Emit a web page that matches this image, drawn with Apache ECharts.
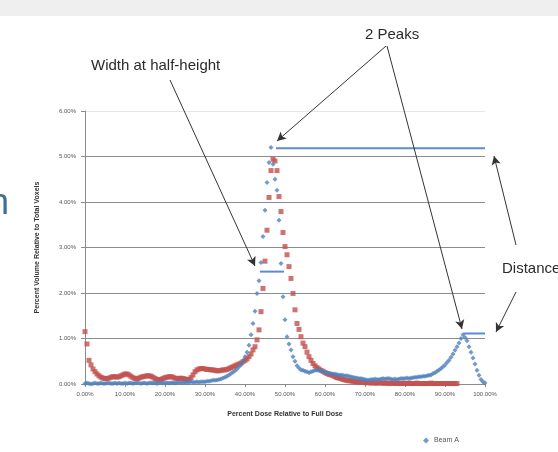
<!DOCTYPE html>
<html>
<head>
<meta charset="utf-8">
<script src="https://cdn.jsdelivr.net/npm/echarts@6/dist/echarts.min.js"></script>
<style>
  html, body { margin: 0; padding: 0; background: #fff; }
  #chart { width: 558px; height: 452px; }
</style>
</head>
<body>
<div id="chart"></div>
<script>
// dose sampled every 0.5 %, values are % of total voxels
const doseStep = 0.5
const yTicks = [0, 1, 2, 3, 4, 5, 6]
const xTicks = [0, 10, 20, 30, 40, 50, 60, 70, 80, 90, 100]

const beamA = [
  0.01, 0.02, 0.01, 0.00, 0.01, 0.02, 0.01, 0.01, 0.02, 0.01,
  0.01, 0.02, 0.02, 0.01, 0.01, 0.02, 0.01, 0.02, 0.01, 0.01,
  0.02, 0.01, 0.02, 0.02, 0.01, 0.02, 0.03, 0.02, 0.01, 0.02,
  0.02, 0.01, 0.02, 0.03, 0.02, 0.02, 0.01, 0.02, 0.03, 0.02,
  0.02, 0.03, 0.02, 0.03, 0.03, 0.02, 0.03, 0.04, 0.03, 0.03,
  0.04, 0.03, 0.04, 0.05, 0.04, 0.04, 0.05, 0.04, 0.05, 0.05,
  0.05, 0.06, 0.06, 0.07, 0.08, 0.08, 0.09, 0.10, 0.11, 0.13,
  0.15, 0.17, 0.20, 0.23, 0.26, 0.29, 0.33, 0.38, 0.43, 0.50,
  0.60, 0.70, 0.85, 1.08, 1.33, 1.60, 1.99, 2.27, 2.67, 3.24,
  3.82, 4.43, 4.87, 5.20, 4.83, 4.50, 4.26, 3.60, 2.65, 1.92,
  1.41, 1.04, 0.88, 0.75, 0.60, 0.50, 0.40, 0.35, 0.31, 0.30,
  0.28, 0.27, 0.25, 0.27, 0.28, 0.30, 0.30, 0.31, 0.29, 0.27,
  0.26, 0.25, 0.24, 0.23, 0.22, 0.22, 0.21, 0.20, 0.20, 0.19,
  0.18, 0.18, 0.17, 0.16, 0.15, 0.14, 0.13, 0.12, 0.12, 0.11,
  0.10, 0.09, 0.09, 0.10, 0.10, 0.11, 0.10, 0.10, 0.11, 0.12,
  0.11, 0.12, 0.12, 0.11, 0.10, 0.11, 0.10, 0.11, 0.12, 0.12,
  0.12, 0.13, 0.12, 0.13, 0.14, 0.15, 0.15, 0.16, 0.16, 0.17,
  0.17, 0.18, 0.19, 0.20, 0.23, 0.25, 0.28, 0.31, 0.34, 0.38,
  0.42, 0.47, 0.52, 0.59, 0.66, 0.74, 0.82, 0.90, 1.00, 1.08,
  1.02, 0.95, 0.82, 0.70, 0.57, 0.44, 0.30, 0.19, 0.10, 0.05,
  0.02
]

const beamB = [
  1.15, 0.88, 0.52, 0.42, 0.33, 0.27, 0.22, 0.18, 0.15, 0.13,
  0.12, 0.12, 0.13, 0.15, 0.16, 0.16, 0.15, 0.16, 0.18, 0.20,
  0.22, 0.22, 0.20, 0.17, 0.14, 0.12, 0.12, 0.13, 0.15, 0.16,
  0.17, 0.18, 0.18, 0.17, 0.15, 0.12, 0.10, 0.09, 0.10, 0.12,
  0.14, 0.15, 0.16, 0.16, 0.15, 0.13, 0.12, 0.12, 0.13, 0.12,
  0.11, 0.10, 0.10, 0.14, 0.20, 0.27, 0.31, 0.33, 0.34, 0.34,
  0.33, 0.32, 0.32, 0.31, 0.31, 0.30, 0.29, 0.29, 0.30, 0.31,
  0.31, 0.32, 0.34, 0.36, 0.38, 0.40, 0.42, 0.44, 0.46, 0.49,
  0.52, 0.55, 0.60, 0.66, 0.75, 0.82, 0.97, 1.19, 1.59, 2.10,
  2.70, 3.38, 4.10, 4.69, 4.94, 4.90, 4.69, 4.12, 3.79, 3.33,
  3.02, 2.84, 2.58, 2.32, 1.99, 1.63, 1.33, 1.20, 1.04, 0.90,
  0.82, 0.70, 0.60, 0.52, 0.45, 0.40, 0.36, 0.33, 0.30, 0.28,
  0.25, 0.23, 0.21, 0.20, 0.18, 0.16, 0.14, 0.13, 0.12, 0.10,
  0.09, 0.08, 0.07, 0.07, 0.06, 0.05, 0.05, 0.04, 0.04, 0.04,
  0.03, 0.03, 0.03, 0.02, 0.03, 0.02, 0.02, 0.03, 0.02, 0.02,
  0.02, 0.02, 0.01, 0.02, 0.02, 0.01, 0.02, 0.01, 0.01, 0.02,
  0.01, 0.01, 0.02, 0.01, 0.01, 0.01, 0.02, 0.01, 0.01, 0.01,
  0.01, 0.01, 0.01, 0.02, 0.01, 0.01, 0.01, 0.01, 0.01, 0.01,
  0.01, 0.01, 0.01, 0.01, 0.01, 0.01, 0.01
]

// hand drawn helper lines on the slide (data coords: dose %, volume %)
const peakLine = [[47.75, 5.18], [100, 5.18]]
const halfLine = [[43.75, 2.47], [49.75, 2.47]]
const secondPeakLine = [[94.6, 1.11], [100, 1.11]]

const toPoints = arr => arr.map((v, i) => [i * doseStep, v])
const pct = v => v.toFixed(2) + '%'

const chart = echarts.init(document.getElementById('chart'))

const helperStyle = { color: '#5b8bd0', width: 2 }
const arrow = (x1, y1, x2, y2) => [{ x: x1, y: y1 }, { x: x2, y: y2 }]

chart.setOption({
  animation: false,
  textStyle: { fontFamily: 'Liberation Sans, Arial, sans-serif' },
  grid: { left: 85, right: 73, top: 111, bottom: 68 },
  legend: {
    data: ['Beam A'],
    left: 418,
    top: 432,
    itemWidth: 6,
    itemHeight: 6,
    textStyle: { fontSize: 7, color: '#555' }
  },
  xAxis: {
    type: 'value',
    min: xTicks[0],
    max: xTicks[xTicks.length - 1],
    interval: 10,
    name: 'Percent Dose Relative to Full Dose',
    nameLocation: 'middle',
    nameGap: 27,
    nameTextStyle: { fontSize: 7, fontWeight: 'bold', color: '#333' },
    axisLine: { lineStyle: { color: '#8c8c8c' } },
    axisTick: { show: true, length: 3, lineStyle: { color: '#8c8c8c' } },
    axisLabel: { formatter: pct, fontSize: 6, color: '#555', margin: 7 },
    splitLine: { show: false }
  },
  yAxis: {
    type: 'value',
    min: yTicks[0],
    max: yTicks[yTicks.length - 1],
    interval: 1,
    name: 'Percent Volume Relative to Total Voxels',
    nameLocation: 'middle',
    nameGap: 44,
    nameTextStyle: { fontSize: 7, fontWeight: 'bold', color: '#333' },
    axisLine: { show: true, lineStyle: { color: '#8c8c8c' } },
    axisTick: { show: true, length: 4, lineStyle: { color: '#8c8c8c' } },
    axisLabel: { formatter: pct, fontSize: 6, color: '#555', margin: 9 },
    splitLine: {
      lineStyle: { color: ['#8c8c8c', '#8c8c8c', '#8c8c8c', '#8c8c8c', '#8c8c8c', '#8c8c8c', '#e6e6e6'] }
    }
  },
  series: [
    {
      name: 'Beam B',
      type: 'scatter',
      symbol: 'rect',
      symbolSize: 5,
      itemStyle: { color: '#c0504d' },
      data: toPoints(beamB)
    },
    {
      name: 'Beam A',
      type: 'scatter',
      symbol: 'diamond',
      symbolSize: 5,
      itemStyle: { color: '#4f81bd' },
      data: toPoints(beamA)
    },
    {
      type: 'line', silent: true, showSymbol: false,
      lineStyle: helperStyle, data: peakLine
    },
    {
      type: 'line', silent: true, showSymbol: false,
      lineStyle: helperStyle, data: halfLine
    },
    {
      type: 'line', silent: true, showSymbol: false,
      lineStyle: helperStyle, data: secondPeakLine,
      markLine: {
        silent: true,
        symbol: ['none', 'arrow'],
        symbolSize: [7, 9],
        label: { show: false },
        lineStyle: { color: '#333', width: 1, type: 'solid' },
        data: [
          arrow(386, 46, 277, 141),
          arrow(387, 46, 462, 329),
          arrow(170, 80, 255, 266),
          arrow(516, 245, 494, 156),
          arrow(516, 292, 496, 332)
        ]
      }
    }
  ],
  graphic: [
    { type: 'rect', left: 0, top: 0, z: -10, shape: { width: 558, height: 16 }, style: { fill: '#efefef' } },
    { type: 'text', x: 9, y: 222, style: { text: 'n', font: '36px Liberation Sans', fill: '#3f6f96', textAlign: 'right', textVerticalAlign: 'bottom' } },
    { type: 'text', x: 365, y: 35, style: { text: '2 Peaks', font: '15px Liberation Sans', fill: '#2b2b2b', textVerticalAlign: 'middle' } },
    { type: 'text', x: 91, y: 66, style: { text: 'Width at half-height', font: '15px Liberation Sans', fill: '#2b2b2b', textVerticalAlign: 'middle' } },
    { type: 'text', x: 502, y: 269, style: { text: 'Distance', font: '15px Liberation Sans', fill: '#2b2b2b', textVerticalAlign: 'middle' } }
  ]
})
</script>
</body>
</html>
